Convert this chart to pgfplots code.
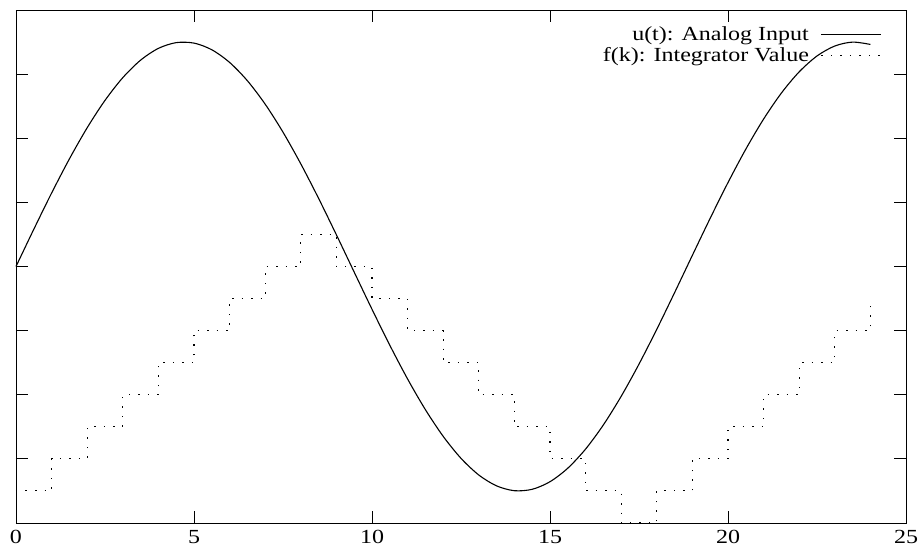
\documentclass[border=0pt]{standalone}
\usepackage{fontspec}
\setmainfont{Liberation Serif}[FakeStretch=1.2]
\usepackage{pgfplots}
\pgfplotsset{compat=1.18}
\begin{document}
\begin{tikzpicture}
\useasboundingbox (-16pt,-36pt) rectangle (904pt,523pt);
\begin{axis}[
  at={(0pt,0pt)}, anchor=south west,
  scale only axis, width=890pt, height=513pt,
  xmin=0, xmax=25, ymin=-4, ymax=4,
  xtick={0,5,...,25}, ytick={-4,-3,...,4}, yticklabels={},
  tick align=inside, major tick length=12pt,
  axis line style={line width=0.8pt},
  every tick/.style={black, line width=0.8pt},
  /pgf/number format/assume math mode=true,
  tick label style={font=\fontsize{20}{22}\selectfont},
  xticklabel style={yshift=-4pt},
  clip=false,
  legend plot pos=right,
  legend cell align=right,
  legend style={draw=none, fill=none, at={(0.973,0.972)}, anchor=north east,
    font=\fontsize{20}{20}\selectfont, row sep=1.5pt, column sep=10pt, inner sep=0pt},
  legend image code/.code={\draw[#1, line width=0.9pt] (0pt,0pt) -- (60pt,0pt);},
]
\addplot[black, line width=1.1pt, smooth] coordinates {
(0,0) (0.5,0.5807) (1,1.1452) (1.5,1.6780) (2,2.1643) (2.5,2.5906) (3,2.9451)
(3.5,3.2179) (4,3.4018) (4.5,3.4912) (5,3.4839) (5.5,3.3801) (6,3.1825)
(6.5,2.8968) (7,2.5308) (7.5,2.0947) (8,1.6004) (8.5,1.0619) (9,0.4939)
(9.5,-0.0878) (10,-0.6670) (10.5,-1.2277) (11,-1.7545) (11.5,-2.2327)
(12,-2.6488) (12.5,-2.9917) (13,-3.2517) (13.5,-3.4213) (14,-3.4963)
(14.5,-3.4744) (15,-3.3562) (15.5,-3.1450) (16,-2.8467) (16.5,-2.4694)
(17,-2.0237) (17.5,-1.5219) (18,-0.9780) (18.5,-0.4069) (19,0.1755)
(19.5,0.7529) (20,1.3095) (20.5,1.8299) (21,2.2995) (21.5,2.7053)
(22,3.0362) (22.5,3.2830) (23,3.4388) (23.5,3.4993) (24,3.4628)
};
\addlegendentry{u(t): Analog Input}
\addplot[black, line width=1.1pt, dash pattern=on 1.5pt off 8pt, const plot mark left] coordinates {
(0,-3.5) (1,-3) (2,-2.5) (3,-2) (4,-1.5) (5,-1) (6,-0.5) (7,0) (8,0.5)
(9,0) (10,-0.5) (11,-1) (12,-1.5) (13,-2) (14,-2.5) (15,-3) (16,-3.5)
(17,-4) (18,-3.5) (19,-3) (20,-2.5) (21,-2) (22,-1.5) (23,-1) (24,-0.5)
};
\addlegendentry{f(k): Integrator Value}
\end{axis}
\end{tikzpicture}
\end{document}
